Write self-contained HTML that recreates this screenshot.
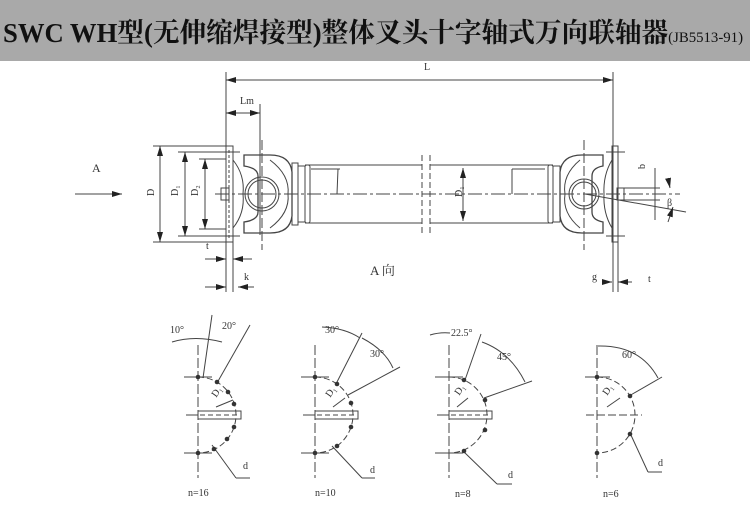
<!DOCTYPE html>
<html><head><meta charset="utf-8"><style>
html,body{margin:0;padding:0;background:#fff}
svg{display:block}
text{font-family:"Liberation Serif","Noto Serif CJK SC",serif;fill:#333}
</style></head><body>
<svg width="750" height="507" viewBox="0 0 750 507" xmlns="http://www.w3.org/2000/svg">
<defs>
<marker id="a" markerWidth="10" markerHeight="6" refX="10" refY="3" orient="auto-start-reverse" markerUnits="userSpaceOnUse"><path d="M0,0 L10,3 L0,6z" fill="#222"/></marker>
</defs>
<rect x="0" y="0" width="750" height="61" fill="#a9a9a9"/>
<text x="3" y="42" font-size="27" font-weight="bold" textLength="740" lengthAdjust="spacingAndGlyphs" style="fill:#111">SWC WH型(无伸缩焊接型)整体叉头十字轴式万向联轴器<tspan font-size="15" font-weight="normal">(JB5513-91)</tspan></text>
<g stroke="#444" stroke-width="1" fill="none">
<line x1="226" y1="72" x2="226" y2="292"/>
<line x1="613" y1="72" x2="613" y2="292"/>
<line x1="226" y1="80" x2="613" y2="80" marker-start="url(#a)" marker-end="url(#a)"/>
<line x1="260" y1="104" x2="260" y2="235"/>
<line x1="226" y1="113" x2="260" y2="113" marker-start="url(#a)" marker-end="url(#a)"/>
<rect x="226" y="146" width="7" height="96"/>
<line x1="229" y1="150" x2="229" y2="238" stroke-dasharray="3,2"/>
<rect x="221" y="188" width="8" height="12"/>
<line x1="153" y1="146" x2="226" y2="146"/><line x1="153" y1="242" x2="226" y2="242"/>
<line x1="178" y1="152" x2="240" y2="152"/><line x1="178" y1="236" x2="240" y2="236"/>
<line x1="199" y1="159" x2="226" y2="159"/><line x1="199" y1="229" x2="226" y2="229"/>
<line x1="160" y1="146" x2="160" y2="242" marker-start="url(#a)" marker-end="url(#a)"/>
<line x1="185" y1="152" x2="185" y2="236" marker-start="url(#a)" marker-end="url(#a)"/>
<line x1="205" y1="159" x2="205" y2="229" marker-start="url(#a)" marker-end="url(#a)"/>
<line x1="75" y1="194" x2="122" y2="194" marker-end="url(#a)"/>
<path d="M233,160 Q245,175 243,194 Q245,213 233,228"/>
<path d="M244,155 L270,155 Q290,155 292,172 L292,216 Q290,233 270,233 L244,233 L244,222 Q258,220 258,212 L258,176 Q258,168 244,166 Z" stroke-width="1.3"/>
<circle cx="262" cy="194" r="17"/><circle cx="262" cy="194" r="14"/>
<path d="M270,160 Q290,175 288,194 M270,228 Q290,213 288,194"/>
<rect x="292" y="163" width="6" height="62"/><rect x="298" y="166" width="7" height="56"/>
<line x1="305" y1="165" x2="422" y2="165"/><line x1="305" y1="223" x2="422" y2="223"/>
<line x1="430" y1="165" x2="553" y2="165"/><line x1="430" y1="223" x2="553" y2="223"/>
<rect x="305" y="165" width="5" height="58" rx="2"/>
<rect x="548" y="165" width="5" height="58" rx="2"/>
<line x1="311" y1="169" x2="340" y2="169"/><line x1="512" y1="169" x2="545" y2="169"/>
<line x1="338" y1="169" x2="337" y2="194"/><line x1="512" y1="169" x2="512" y2="194"/>
<line x1="422" y1="155" x2="422" y2="233" stroke-dasharray="6,3"/>
<line x1="430" y1="155" x2="430" y2="233" stroke-dasharray="6,3"/>
<line x1="463" y1="168" x2="463" y2="221" marker-start="url(#a)" marker-end="url(#a)"/>
<rect x="553" y="166" width="7" height="56"/>
<path d="M603,155 L582,155 Q562,155 560,172 L560,216 Q562,233 582,233 L603,233 L603,222 Q592,220 592,212 L592,176 Q592,168 603,166 Z" stroke-width="1.3"/>
<circle cx="584" cy="194" r="15"/><circle cx="584" cy="194" r="12"/>
<path d="M580,160 Q562,175 565,194 M580,228 Q562,213 565,194"/>
<path d="M612,160 Q603,175 604,194 Q603,213 612,228"/>
<rect x="612" y="146" width="6" height="96"/>
<rect x="617" y="188" width="7" height="12"/>
<line x1="606" y1="152" x2="625" y2="152"/><line x1="606" y1="236" x2="625" y2="236"/>
<line x1="585" y1="194" x2="686" y2="212"/>
<line x1="620" y1="188" x2="660" y2="188"/><line x1="620" y1="200" x2="660" y2="200"/>
<line x1="655" y1="168" x2="655" y2="220"/>
<line x1="668" y1="178" x2="670" y2="188" marker-end="url(#a)"/>
<line x1="668" y1="222" x2="673" y2="207" marker-end="url(#a)"/>
<line x1="215" y1="194" x2="680" y2="194" stroke-dasharray="14,3,3,3"/>
<line x1="262" y1="140" x2="262" y2="250" stroke-dasharray="10,3"/>
<line x1="584" y1="140" x2="584" y2="250" stroke-dasharray="10,3"/>
<line x1="226" y1="240" x2="226" y2="292"/><line x1="233" y1="240" x2="233" y2="292"/>
<line x1="205" y1="259" x2="226" y2="259" marker-end="url(#a)"/><line x1="252" y1="259" x2="233" y2="259" marker-end="url(#a)"/>
<line x1="205" y1="287" x2="226" y2="287" marker-end="url(#a)"/><line x1="254" y1="287" x2="238" y2="287" marker-end="url(#a)"/>
<line x1="618" y1="242" x2="618" y2="292"/>
<line x1="604" y1="282" x2="612" y2="282" marker-end="url(#a)"/><line x1="632" y1="282" x2="618" y2="282" marker-end="url(#a)"/>
</g>
<g font-size="10">
<text x="424" y="70">L</text><text x="240" y="104">Lm</text>
<text x="92" y="172" font-size="12">A</text>
<text x="148" y="198" transform="rotate(-90 150 194)">D</text>
<text x="172" y="198" transform="rotate(-90 174 194)">D₁</text>
<text x="192" y="198" transform="rotate(-90 194 194)">D₂</text>
<text x="455" y="198" transform="rotate(-90 458 194)">D₁</text>
<text x="640" y="170" transform="rotate(-90 642 167)">b</text>
<text x="667" y="206">β</text>
<text x="206" y="249">t</text><text x="244" y="280">k</text>
<text x="592" y="280">g</text><text x="648" y="282">t</text>
<text x="370" y="275" font-size="13">A  向</text>
</g>
<g stroke="#444" stroke-width="1" fill="none">
<g id="b1">
<line x1="198" y1="345" x2="198" y2="478" stroke-dasharray="10,3"/>
<line x1="186" y1="415" x2="198" y2="415"/>
<rect x="198" y="411" width="43" height="8"/>
<line x1="200" y1="415" x2="238" y2="415" stroke-dasharray="5,3"/>
<path d="M198,377 A38,38 0 0 1 198,453" stroke-dasharray="6,3"/>
<line x1="184" y1="377" x2="212" y2="377"/><line x1="184" y1="453" x2="212" y2="453"/>
</g>
<use href="#b1" x="117"/><use href="#b1" x="251"/>
<line x1="597" y1="345" x2="597" y2="478" stroke-dasharray="10,3"/>
<line x1="586" y1="415" x2="642" y2="415" stroke-dasharray="8,3"/>
<path d="M597,377 A38,38 0 0 1 597,453" stroke-dasharray="6,3"/>
<line x1="585" y1="377" x2="610" y2="377"/>
<line x1="203" y1="378" x2="212" y2="315"/><line x1="217" y1="383" x2="250" y2="325"/>
<path d="M172,342 Q195,335 222,342"/>
<line x1="212" y1="445" x2="236" y2="478"/><line x1="236" y1="478" x2="250" y2="478"/>
<line x1="216" y1="407" x2="233" y2="400"/>
<line x1="337" y1="382" x2="362" y2="333"/><line x1="348" y1="395" x2="400" y2="367"/>
<path d="M322,327 Q345,328 360,338 M362,338 Q385,350 393,368"/>
<line x1="332" y1="446" x2="362" y2="478"/><line x1="362" y1="478" x2="375" y2="478"/>
<line x1="333" y1="407" x2="345" y2="398"/>
<line x1="465" y1="380" x2="481" y2="334"/><line x1="484" y1="398" x2="532" y2="381"/>
<path d="M430,335 Q440,332 450,333 M482,342 Q510,352 525,382"/>
<line x1="463" y1="451" x2="497" y2="484"/><line x1="497" y1="484" x2="512" y2="484"/>
<line x1="457" y1="407" x2="468" y2="398"/>
<line x1="629" y1="396" x2="662" y2="377"/>
<path d="M598,346 Q640,345 658,378"/>
<line x1="630" y1="433" x2="648" y2="472"/><line x1="648" y1="472" x2="662" y2="472"/>
<line x1="607" y1="407" x2="620" y2="398"/>
</g>
<g fill="#333">
<circle cx="198" cy="377" r="2.3"/><circle cx="217" cy="382" r="2.3"/><circle cx="228" cy="392" r="2.3"/><circle cx="234" cy="404" r="2.3"/>
<circle cx="234" cy="427" r="2.3"/><circle cx="227" cy="439" r="2.3"/><circle cx="214" cy="449" r="2.3"/><circle cx="198" cy="453" r="2.3"/>
<circle cx="315" cy="377" r="2.3"/><circle cx="337" cy="384" r="2.3"/><circle cx="351" cy="403" r="2.3"/><circle cx="351" cy="427" r="2.3"/><circle cx="337" cy="446" r="2.3"/><circle cx="315" cy="453" r="2.3"/>
<circle cx="464" cy="380" r="2.3"/><circle cx="485" cy="400" r="2.3"/><circle cx="485" cy="430" r="2.3"/><circle cx="464" cy="451" r="2.3"/>
<circle cx="597" cy="377" r="2.3"/><circle cx="630" cy="396" r="2.3"/><circle cx="630" cy="434" r="2.3"/><circle cx="597" cy="453" r="2.3"/>
</g>
<g font-size="10">
<text x="170" y="333">10°</text><text x="222" y="329">20°</text>
<text x="325" y="333">30°</text><text x="370" y="357">30°</text>
<text x="451" y="336">22.5°</text><text x="497" y="360">45°</text>
<text x="622" y="358">60°</text>
<text x="212" y="398" transform="rotate(-55 214 394)">D₁</text>
<text x="326" y="398" transform="rotate(-55 328 394)">D₁</text>
<text x="455" y="396" transform="rotate(-55 457 392)">D₁</text>
<text x="603" y="396" transform="rotate(-55 605 392)">D₁</text>
<text x="243" y="469">d</text><text x="370" y="473">d</text><text x="508" y="478">d</text><text x="658" y="466">d</text>
<text x="188" y="496">n=16</text><text x="315" y="496">n=10</text><text x="455" y="497">n=8</text><text x="603" y="497">n=6</text>
</g>
</svg>
</body></html>
